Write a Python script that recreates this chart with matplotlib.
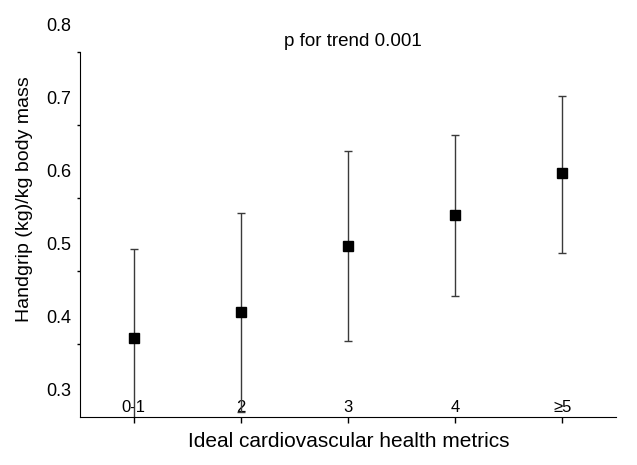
import matplotlib
matplotlib.use("Agg")
import matplotlib.pyplot as plt
import numpy as np

plt.rcParams['font.family'] = ['Liberation Sans', 'DejaVu Sans']

# data
groups = ['0-1', '2', '3', '4', '\u22655']
means = np.array([0.371, 0.406, 0.497, 0.539, 0.596])
upper = np.array([0.493, 0.542, 0.626, 0.648, 0.702])
lower = np.array([0.249, 0.270, 0.367, 0.429, 0.487])
ytick_labels = [0.3, 0.4, 0.5, 0.6, 0.7, 0.8]

fig = plt.figure(figsize=(6.37, 4.65), dpi=100)
ax = fig.add_axes([80/637, 48/465, 536/637, 393.5/465])

x = np.arange(1, len(groups) + 1)
ax.errorbar(x, means, yerr=[means - lower, upper - means], fmt='s', color='black',
            ms=6.5, ecolor='#3a3a3a', elinewidth=1, capsize=3, capthick=1)

ax.set_xlim(0.5, 5.5)
ax.set_ylim(0.263, 0.801)
ax.spines['top'].set_visible(False)
ax.spines['right'].set_visible(False)
ax.spines['left'].set_bounds(0.263, 0.7615)

# labels sit a bit above the tick marks in the original
ax.set_yticks(ytick_labels)
ax.set_yticklabels(['%.1f' % v for v in ytick_labels])
ax.tick_params(axis='y', which='major', length=0, pad=6.5, labelsize=13)
ax.set_yticks([0.3628, 0.4623, 0.5619, 0.6629, 0.7615], minor=True)
ax.tick_params(axis='y', which='minor', length=2.2, width=1)

ax.set_xticks(x)
ax.set_xticklabels(groups)
ax.tick_params(axis='x', length=4, width=1, pad=-16, labelsize=12)

ax.text(3.05, 0.7766, 'p for trend 0.001', ha='center', va='center', fontsize=13.5)
fig.text(348.5/637, 1 - 441/465, 'Ideal cardiovascular health metrics',
         ha='center', va='center', fontsize=15)
fig.text(25/637, 1 - 199/465, 'Handgrip (kg)/kg body mass', rotation=90,
         ha='center', va='center', fontsize=14)

fig.savefig('out.png', dpi=100)
